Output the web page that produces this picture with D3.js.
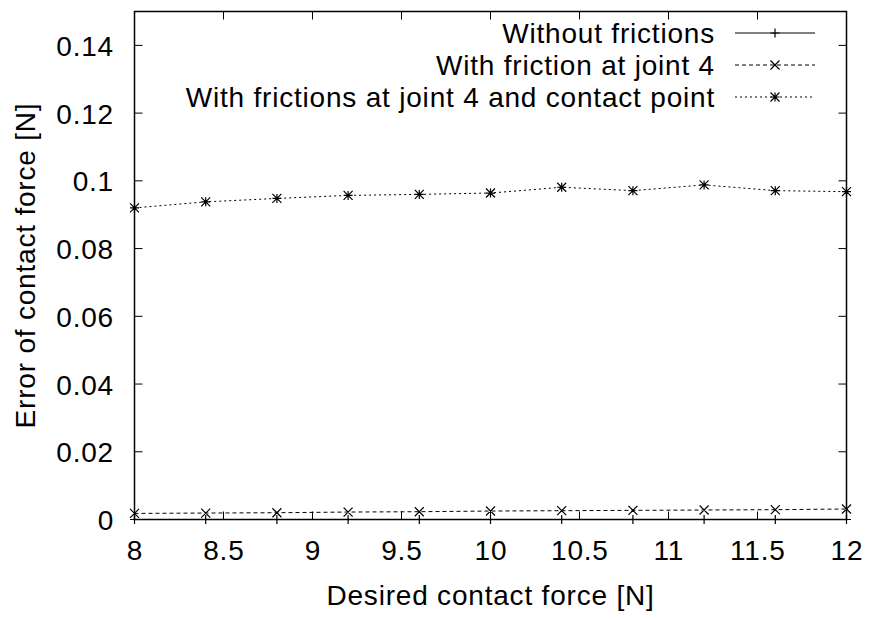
<!DOCTYPE html>
<html>
<head>
<meta charset="utf-8">
<script src="https://cdn.jsdelivr.net/npm/d3@7/dist/d3.min.js"></script>
<style>
  html, body { margin: 0; padding: 0; background: #fff; }
  svg text { font-family: "Liberation Sans", Arial, sans-serif; fill: #000; letter-spacing: 0.8px; }
</style>
</head>
<body>
<svg id="chart" width="875" height="619"></svg>
<script>
// Desired contact force [N]
const forces = [8, 8.4, 8.8, 9.2, 9.6, 10, 10.4, 10.8, 11.2, 11.6, 12];

// Error of contact force [N] for each simulation case
const withoutFrictions = [0, 0, 0, 0, 0, 0, 0, 0, 0, 0, 0];
const frictionJoint4 = [0.0018, 0.0019, 0.0020, 0.0022, 0.0023, 0.0025, 0.0026, 0.0027, 0.0028, 0.0029, 0.0031];
const frictionJoint4Contact = [0.0920, 0.0938, 0.0948, 0.0957, 0.0960, 0.0964, 0.0981, 0.0971, 0.0988, 0.0971, 0.0968];

const seriesNames = [
  "Without frictions",
  "With friction at joint 4",
  "With frictions at joint 4 and contact point"
];

const xTicks = [8, 8.5, 9, 9.5, 10, 10.5, 11, 11.5, 12];
const yTicks = [0, 0.02, 0.04, 0.06, 0.08, 0.1, 0.12, 0.14];

const svg = d3.select("#chart");
const plotL = 134.5, plotR = 846.5, plotT = 11.5, plotB = 519.5;
const fontSize = 28;

const x = d3.scaleLinear().domain([8, 12]).range([plotL, plotR]);
const y = d3.scaleLinear().domain([0, 0.15]).range([plotB, plotT]);

const tickLen = 8;
const g = svg.append("g");

// inward ticks on all four sides
g.selectAll(".xtb").data(xTicks).join("line")
  .attr("x1", d => x(d)).attr("x2", d => x(d))
  .attr("y1", plotB).attr("y2", plotB - tickLen)
  .attr("stroke", "#000").attr("stroke-width", 1);
g.selectAll(".xtt").data(xTicks).join("line")
  .attr("x1", d => x(d)).attr("x2", d => x(d))
  .attr("y1", plotT).attr("y2", plotT + tickLen)
  .attr("stroke", "#000").attr("stroke-width", 1);
g.selectAll(".ytl").data(yTicks).join("line")
  .attr("x1", plotL).attr("x2", plotL + tickLen)
  .attr("y1", d => y(d)).attr("y2", d => y(d))
  .attr("stroke", "#000").attr("stroke-width", 1);
g.selectAll(".ytr").data(yTicks).join("line")
  .attr("x1", plotR).attr("x2", plotR - tickLen)
  .attr("y1", d => y(d)).attr("y2", d => y(d))
  .attr("stroke", "#000").attr("stroke-width", 1);

// tick labels
g.selectAll(".xl").data(xTicks).join("text")
  .attr("x", d => x(d) + 0.4).attr("y", 560)
  .attr("text-anchor", "middle").attr("font-size", fontSize)
  .text(d => d3.format("")(d));
g.selectAll(".yl").data(yTicks).join("text")
  .attr("x", 114).attr("y", d => y(d) + 10.5)
  .attr("text-anchor", "end").attr("font-size", fontSize)
  .text(d => d3.format("")(d));

// axis titles
svg.append("text")
  .attr("x", (plotL + plotR) / 2).attr("y", 605)
  .attr("text-anchor", "middle").attr("font-size", fontSize)
  .text("Desired contact force [N]");
svg.append("text")
  .attr("transform", `translate(35,${(plotT + plotB) / 2}) rotate(-90)`)
  .attr("text-anchor", "middle").attr("font-size", fontSize)
  .text("Error of contact force [N]");

// marker drawers
function plusPath(cx, cy, s) {
  return `M${cx - s},${cy}H${cx + s}M${cx},${cy - s}V${cy + s}`;
}
function crossPath(cx, cy, s) {
  return `M${cx - s},${cy - s}L${cx + s},${cy + s}M${cx - s},${cy + s}L${cx + s},${cy - s}`;
}
function starPath(cx, cy, s) {
  return plusPath(cx, cy, s) + crossPath(cx, cy, s);
}

const series = [
  { name: seriesNames[0], values: withoutFrictions, dash: null, marker: plusPath },
  { name: seriesNames[1], values: frictionJoint4, dash: "4,3", marker: crossPath },
  { name: seriesNames[2], values: frictionJoint4Contact, dash: "2,3", marker: starPath }
];

const line = d3.line().x(d => x(d[0])).y(d => y(d[1]));
const ms = 4.5;

series.forEach(s => {
  const pts = forces.map((f, i) => [f, s.values[i]]);
  svg.append("path")
    .attr("d", line(pts))
    .attr("fill", "none").attr("stroke", "#000").attr("stroke-width", 1)
    .attr("stroke-dasharray", s.dash);
  svg.append("path")
    .attr("d", pts.map(p => s.marker(x(p[0]), y(p[1]), ms)).join(""))
    .attr("fill", "none").attr("stroke", "#000").attr("stroke-width", 1.2);
});

// frame
svg.append("rect")
  .attr("x", plotL).attr("y", plotT)
  .attr("width", plotR - plotL).attr("height", plotB - plotT)
  .attr("fill", "none").attr("stroke", "#000").attr("stroke-width", 1.5);

// legend
const legendRows = [33, 65, 97];
series.forEach((s, i) => {
  const ly = legendRows[i];
  svg.append("text")
    .attr("x", 715).attr("y", ly + 10)
    .attr("text-anchor", "end").attr("font-size", fontSize)
    .text(s.name);
  svg.append("line")
    .attr("x1", 735).attr("x2", 815)
    .attr("y1", ly).attr("y2", ly)
    .attr("stroke", "#000").attr("stroke-width", 1)
    .attr("stroke-dasharray", s.dash);
  svg.append("path")
    .attr("d", s.marker(775, ly, ms))
    .attr("fill", "none").attr("stroke", "#000").attr("stroke-width", 1.2);
});
</script>
</body>
</html>
